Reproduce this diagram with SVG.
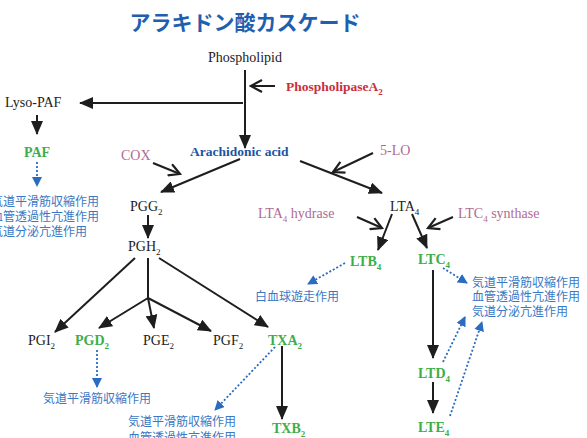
<svg xmlns="http://www.w3.org/2000/svg" width="587" height="438" viewBox="0 0 587 438">
<defs>
<marker id="ah" markerUnits="userSpaceOnUse" markerWidth="14" markerHeight="12" refX="13" refY="6" orient="auto"><path d="M0,0 L14,6 L0,12 z" fill="#1e1e1e"/></marker>
<marker id="oh" markerUnits="userSpaceOnUse" markerWidth="14" markerHeight="14" refX="12" refY="7" orient="auto"><path d="M1,1 L12,7 L1,13" fill="none" stroke="#1e1e1e" stroke-width="2.2"/></marker>
<marker id="bh" markerUnits="userSpaceOnUse" markerWidth="10" markerHeight="10" refX="9" refY="5" orient="auto"><path d="M0,0 L10,5 L0,10 z" fill="#2a6cc0"/></marker>
<style>
.s{stroke:#1e1e1e;stroke-width:2;fill:none}
.d{stroke:#2a6cc0;stroke-width:1.8;stroke-dasharray:2 2;fill:none}
.t{font-family:"Liberation Serif",serif;font-size:14px;fill:#222}
.g{font-family:"Liberation Serif",serif;font-size:14px;fill:#3dae4a;font-weight:bold}
.m{font-family:"Liberation Serif",serif;font-size:14px;fill:#b06a92}
.j{font-family:"Noto Sans CJK JP",sans-serif;font-size:12px;fill:#3a78c4}
.sub{font-size:9px}
</style>
</defs>
<rect width="587" height="438" fill="#ffffff"/>
<text x="245" y="30" text-anchor="middle" font-family="'Noto Sans CJK JP',sans-serif" font-size="21" font-weight="bold" fill="#1f5fb0">アラキドン酸カスケード</text>
<g id="connectors">
<path class="s" d="M245,70 L245,148" marker-end="url(#ah)"/>
<path class="s" d="M275,86 L251,86" marker-end="url(#oh)"/>
<path class="s" d="M243,103 L80,103" marker-end="url(#ah)"/>
<path class="s" d="M37,115 L37,134" marker-end="url(#ah)"/>
<path class="d" d="M37,162 L37,186" marker-end="url(#bh)"/>
<path class="s" d="M153,163 L180,174" marker-end="url(#oh)"/>
<path class="s" d="M373,153 L333,172" marker-end="url(#oh)"/>
<path class="s" d="M240,159 L161,192" marker-end="url(#ah)"/>
<path class="s" d="M300,161 L382,193" marker-end="url(#ah)"/>
<path class="s" d="M148,215 L148,238" marker-end="url(#ah)"/>
<path class="s" d="M135,258 L55,332" marker-end="url(#ah)"/>
<path class="s" d="M148,258 L148,298"/>
<path class="s" d="M148,298 L99,328" marker-end="url(#ah)"/>
<path class="s" d="M148,298 L154,328" marker-end="url(#ah)"/>
<path class="s" d="M148,298 L211,331" marker-end="url(#ah)"/>
<path class="s" d="M159,258 L268,327" marker-end="url(#ah)"/>
<path class="d" d="M97,350 L97,387" marker-end="url(#bh)"/>
<path class="d" d="M275,347 L215,410" marker-end="url(#bh)"/>
<path class="s" d="M282,346 L282,419" marker-end="url(#ah)"/>
<path class="s" d="M357,217 L382,228" marker-end="url(#oh)"/>
<path class="s" d="M453,217 L428,228" marker-end="url(#oh)"/>
<path class="s" d="M392,214 L378,250" marker-end="url(#ah)"/>
<path class="s" d="M412,214 L427,248" marker-end="url(#ah)"/>
<path class="d" d="M345,263 L308,284" marker-end="url(#bh)"/>
<path class="d" d="M443,268 L467,283" marker-end="url(#bh)"/>
<path class="s" d="M433,270 L433,358" marker-end="url(#ah)"/>
<path class="s" d="M433,382 L433,413" marker-end="url(#ah)"/>
<path class="d" d="M443,362 L465,317" marker-end="url(#bh)"/>
<path class="d" d="M450,416 L482,322" marker-end="url(#bh)"/>
</g>
<g id="phospholipid"><text class="t" x="245" y="62" text-anchor="middle">Phospholipid</text></g>
<g id="pla2"><text x="286" y="91" font-family="'Liberation Serif',serif" font-size="13.5" font-weight="bold" fill="#c8303c">PhospholipaseA<tspan font-size="9" dy="4">2</tspan></text></g>
<g id="lysopaf"><text class="t" x="5" y="107">Lyso-PAF</text></g>
<g id="paf"><text class="g" x="37" y="157" text-anchor="middle">PAF</text></g>
<g id="paf-effect"><text class="j" x="-9" y="206">気道平滑筋収縮作用</text><text class="j" x="-9" y="221">血管透過性亢進作用</text><text class="j" x="-9" y="236">気道分泌亢進作用</text></g>
<g id="cox"><text class="m" x="121" y="160">COX</text></g>
<g id="aa"><text x="190" y="156" font-family="'Liberation Serif',serif" font-size="13.5" font-weight="bold" fill="#1c54a0">Arachidonic acid</text></g>
<g id="lo5"><text class="m" x="380" y="155">5-LO</text></g>
<g id="pgg2"><text class="t" x="130" y="211">PGG<tspan class="sub" dy="4">2</tspan></text></g>
<g id="pgh2"><text class="t" x="128" y="251">PGH<tspan class="sub" dy="4">2</tspan></text></g>
<g id="pgi2"><text class="t" x="28" y="345">PGI<tspan class="sub" dy="4">2</tspan></text></g>
<g id="pgd2"><text class="g" x="75" y="345">PGD<tspan class="sub" dy="4">2</tspan></text></g>
<g id="pge2"><text class="t" x="143" y="345">PGE<tspan class="sub" dy="4">2</tspan></text></g>
<g id="pgf2"><text class="t" x="213" y="345">PGF<tspan class="sub" dy="4">2</tspan></text></g>
<g id="txa2"><text class="g" x="268" y="345">TXA<tspan class="sub" dy="4">2</tspan></text></g>
<g id="pgd2-effect"><text class="j" x="43" y="403">気道平滑筋収縮作用</text></g>
<g id="txa2-effect"><text class="j" x="128" y="426">気道平滑筋収縮作用</text><text class="j" x="128" y="442">血管透過性亢進作用</text></g>
<g id="txb2"><text class="g" x="272" y="433">TXB<tspan class="sub" dy="4">2</tspan></text></g>
<g id="lta4"><text class="t" x="390" y="211">LTA<tspan class="sub" dy="4">4</tspan></text></g>
<g id="hydrase"><text class="m" x="258" y="218">LTA<tspan class="sub" dy="4">4</tspan><tspan dy="-4"> hydrase</tspan></text></g>
<g id="synthase"><text class="m" x="458" y="218">LTC<tspan class="sub" dy="4">4</tspan><tspan dy="-4"> synthase</tspan></text></g>
<g id="ltb4"><text class="g" x="350" y="266">LTB<tspan class="sub" dy="4">4</tspan></text></g>
<g id="ltc4"><text class="g" x="418" y="264">LTC<tspan class="sub" dy="4">4</tspan></text></g>
<g id="ltb4-effect"><text class="j" x="255" y="301">白血球遊走作用</text></g>
<g id="ltc4-effect"><text class="j" x="472" y="287">気道平滑筋収縮作用</text><text class="j" x="472" y="301">血管透過性亢進作用</text><text class="j" x="472" y="316">気道分泌亢進作用</text></g>
<g id="ltd4"><text class="g" x="418" y="378">LTD<tspan class="sub" dy="4">4</tspan></text></g>
<g id="lte4"><text class="g" x="418" y="432">LTE<tspan class="sub" dy="4">4</tspan></text></g>
</svg>
